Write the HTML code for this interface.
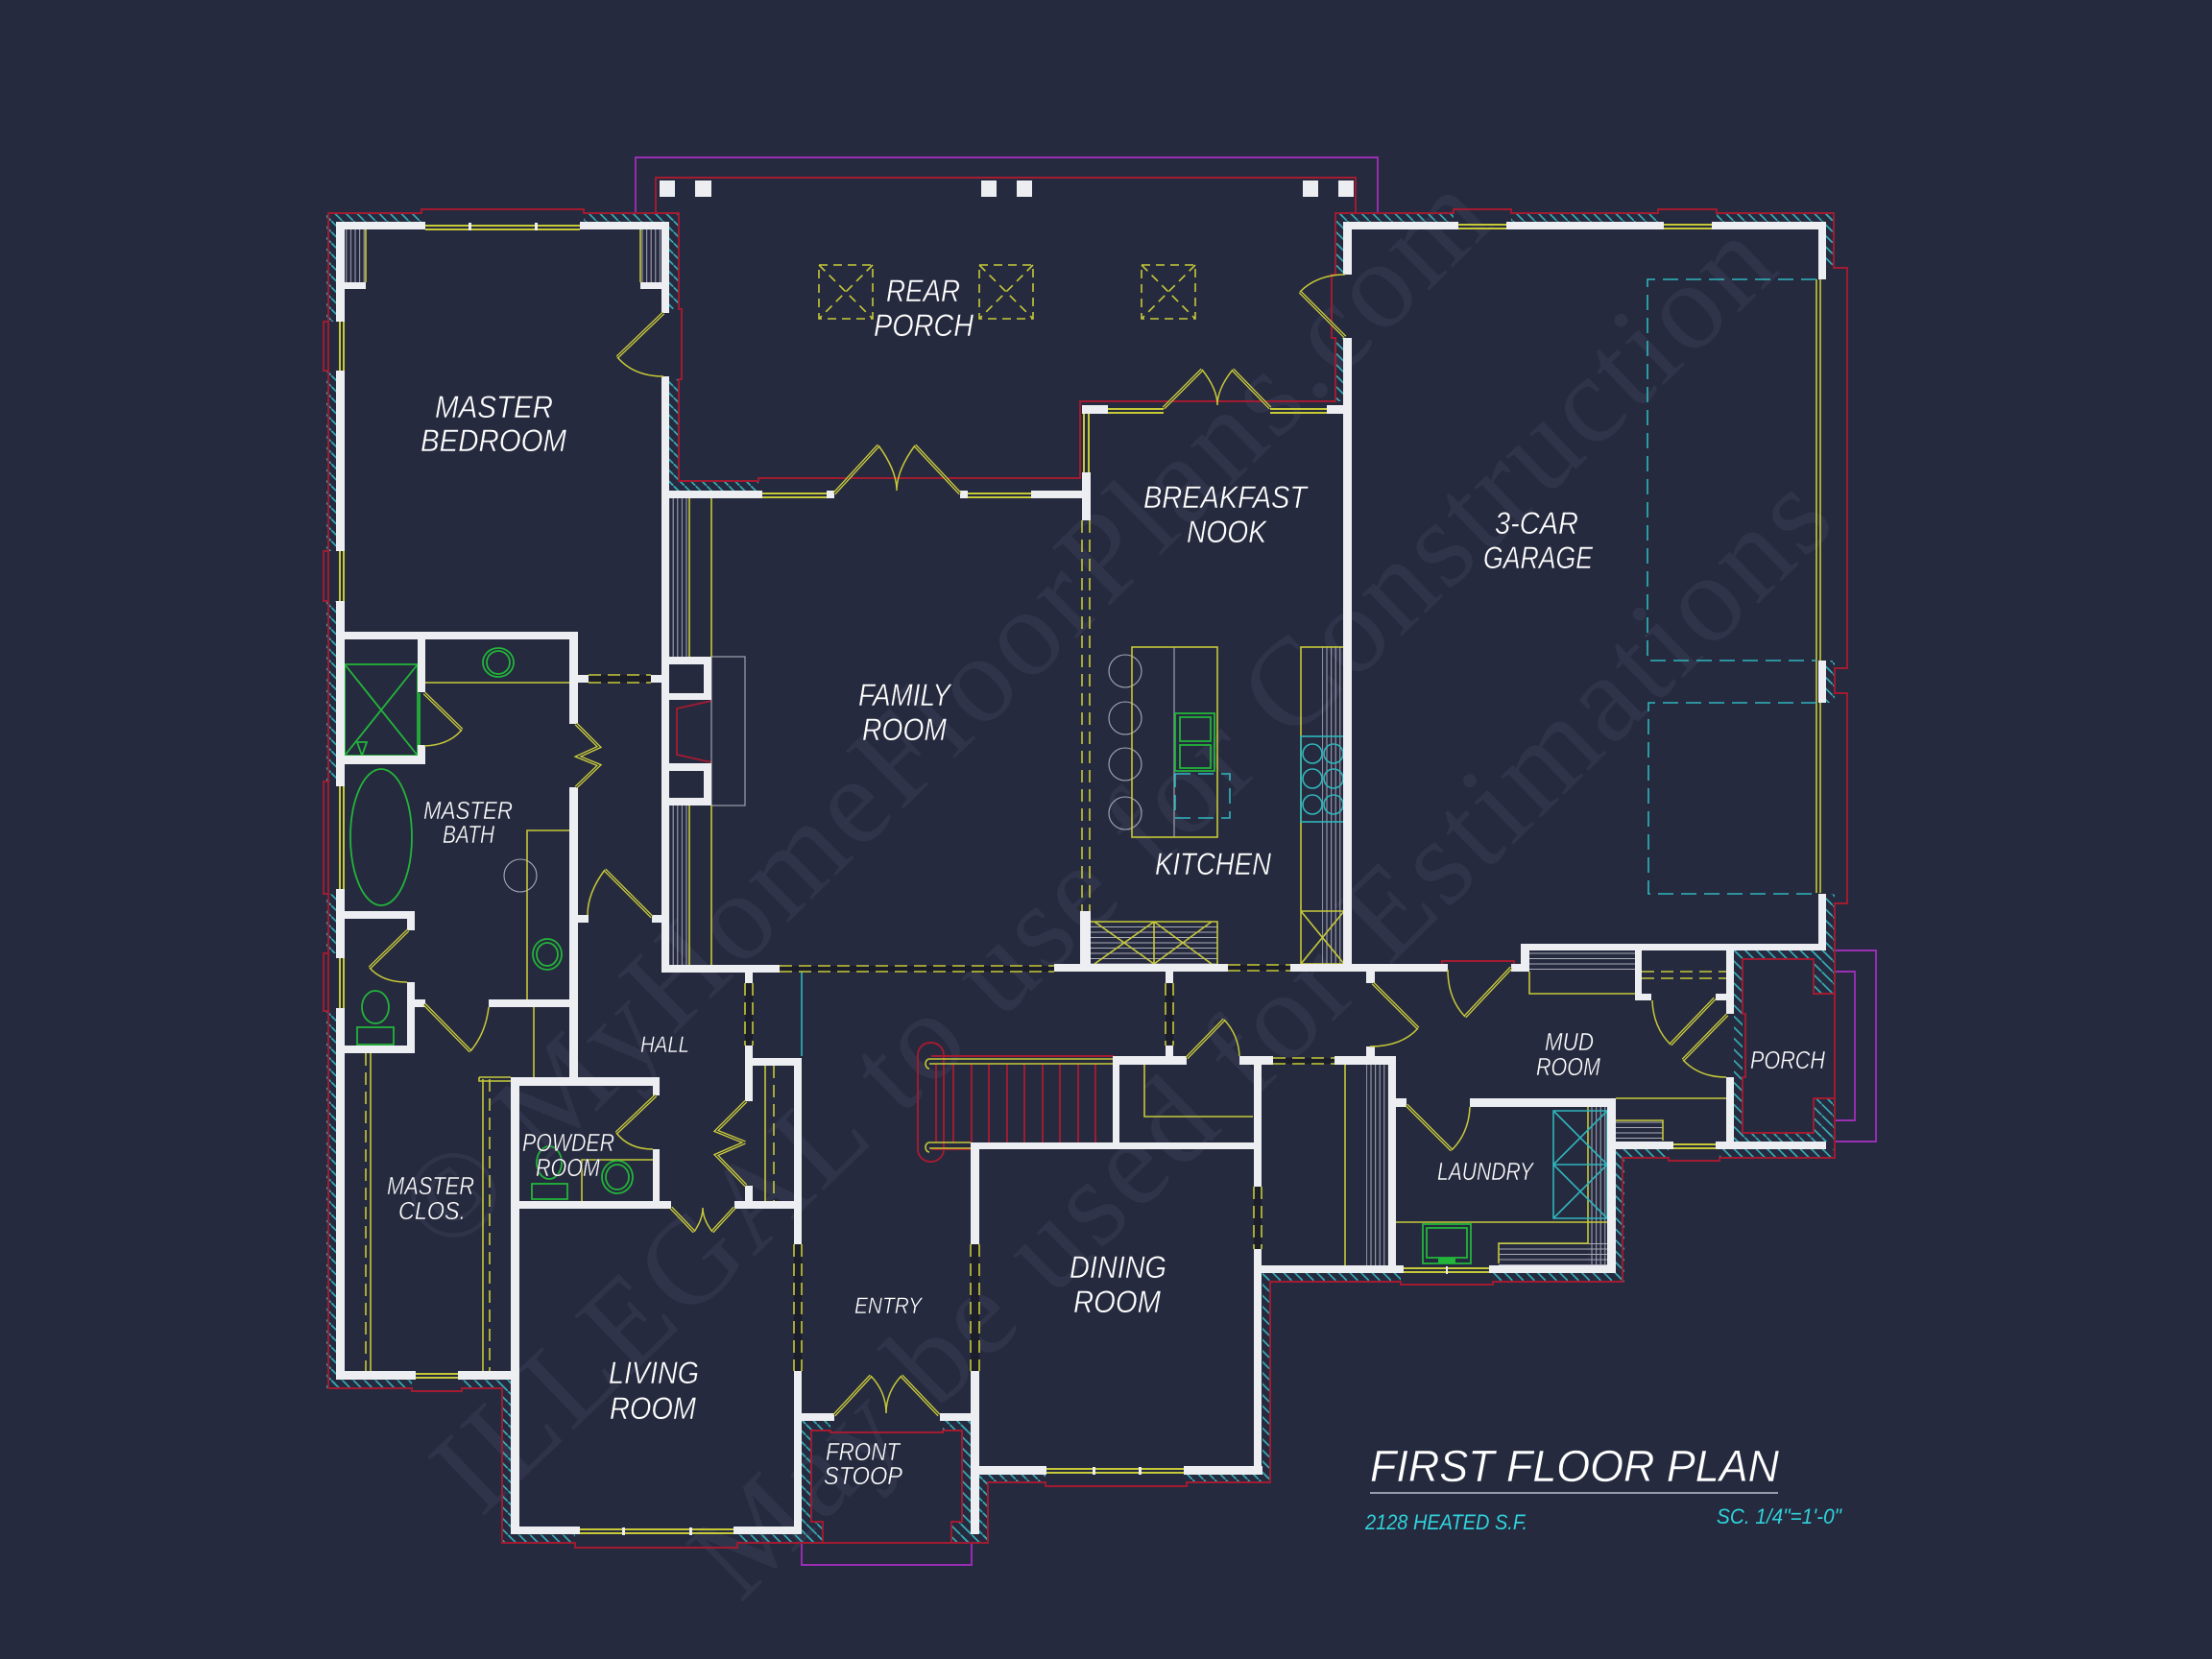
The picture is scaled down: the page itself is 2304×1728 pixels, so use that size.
<!DOCTYPE html>
<html><head><meta charset="utf-8"><title>First Floor Plan</title>
<style>
html,body{margin:0;padding:0;background:#262a3e}
svg{display:block}
.y,.yd,.r,.p,.g,.c,.cd,.w,.a{fill:none}
.y{stroke:#c6c938;stroke-width:1.6}
.yd{stroke:#c6c938;stroke-width:1.6;stroke-dasharray:13 7}
.a{stroke:#c6c938;stroke-width:1.5}
.r{stroke:#a31b31;stroke-width:1.9}
.p{stroke:#9a2fb4;stroke-width:1.9}
.g{stroke:#22b53a;stroke-width:1.8}
.c{stroke:#2fb6bd;stroke-width:1.6}
.cd{stroke:#2fb6bd;stroke-width:1.6;stroke-dasharray:16 8}
.w{stroke:#a9abb8;stroke-width:1.1}
text{font-family:"Liberation Sans",sans-serif;font-style:italic;fill:#fff;stroke:#262a3e;stroke-width:.45}
.m{font-family:"Liberation Serif",serif;font-style:normal;fill:#30344a;stroke:none;font-size:130px}
.t{fill:#2fd3dc;stroke:none;font-size:22px}
</style></head>
<body>
<svg xmlns="http://www.w3.org/2000/svg" width="2304" height="1728" viewBox="0 0 2304 1728">
<defs>
<pattern id="h" width="11.5" height="11.5" patternUnits="userSpaceOnUse"><path d="M-1 -1L12.5 12.5" stroke="#35a9b3" stroke-width="1.7"/></pattern>
<pattern id="v" width="4.6" height="5" patternUnits="userSpaceOnUse"><path d="M2 0V5" stroke="#a9abb8" stroke-width="1"/></pattern>
<pattern id="z" width="5" height="5.5" patternUnits="userSpaceOnUse"><path d="M0 3H5" stroke="#a9abb8" stroke-width="1"/></pattern>
<g id="dd" fill="none">
<path d="M691 326L643 372M869 514L915 464M1000 514L953 464M1212 425L1252 385M1323 425L1284 385M1401 351L1354 304"/>
<path d="M442 722L481 760M600 754L624 778L602 788L624 797L600 820M425 969L385 1008M442 1046L490 1095M679 955L630 906"/>
<path d="M683 1141L642 1180M777 1147L746 1178L776 1190M776 1190L746 1203L777 1235M699 1258L723 1283M765 1258L742 1283M869 1474L907 1433M978 1474L939 1433"/>
<path d="M1236 1102L1275 1062M1430 1024L1477 1071M1574 1008L1526 1059M1465 1151L1512 1198M1786 1040L1740 1088M1799 1057L1753 1104"/>
</g>
</defs>
<rect width="2304" height="1728" fill="#262a3e"/>

<!-- watermark -->
<text class="m" transform="translate(467 1310) rotate(-44.6)" textLength="1533">© MyHomeFloorPlans.com</text>
<text class="m" transform="translate(501 1582) rotate(-43.8)" textLength="1877">ILLEGAL to use for Construction</text>
<text class="m" transform="translate(771 1671) rotate(-44.5)" textLength="1603">May be used for Estimations</text>

<!-- hatch -->
<g fill="url(#h)">
<rect x="340" y="222" width="99" height="9"/><rect x="608" y="222" width="99" height="9"/>
<rect x="340" y="222" width="10" height="113"/><rect x="340" y="386" width="10" height="188"/><rect x="340" y="626" width="10" height="188"/><rect x="340" y="931" width="10" height="62"/><rect x="340" y="1053" width="10" height="393"/>
<rect x="697" y="222" width="10" height="100"/><rect x="697" y="395" width="10" height="116"/><rect x="697" y="501" width="93" height="10"/>
<rect x="340" y="1437" width="89" height="9"/><rect x="481" y="1437" width="51" height="9"/>
<rect x="523" y="1446" width="9" height="161"/><rect x="523" y="1598" width="76" height="9"/><rect x="768" y="1598" width="89" height="9"/>
<rect x="835" y="1480" width="10" height="127"/><rect x="845" y="1585" width="12" height="22"/><rect x="835" y="1480" width="30" height="10"/>
<rect x="1002" y="1480" width="9" height="127"/><rect x="991" y="1585" width="20" height="22"/><rect x="982" y="1480" width="29" height="10"/>
<rect x="1020" y="1536" width="9" height="71"/><rect x="1011" y="1598" width="18" height="9"/>
<rect x="1020" y="1536" width="69" height="8"/><rect x="1236" y="1536" width="87" height="8"/><rect x="1315" y="1326" width="8" height="218"/>
<rect x="1315" y="1326" width="144" height="9"/><rect x="1555" y="1326" width="137" height="9"/><rect x="1683" y="1197" width="9" height="138"/>
<rect x="1683" y="1197" width="55" height="9"/><rect x="1791" y="1197" width="120" height="9"/>
<rect x="1391" y="222" width="123" height="9"/><rect x="1574" y="222" width="153" height="9"/><rect x="1788" y="222" width="122" height="9"/>
<rect x="1391" y="222" width="8" height="64"/><rect x="1391" y="352" width="8" height="66"/><rect x="1902" y="222" width="8" height="57"/>
<rect x="1902" y="688" width="9" height="44"/><rect x="1902" y="931" width="9" height="59"/>
<rect x="1806" y="990" width="9" height="199"/><rect x="1806" y="990" width="105" height="9"/><rect x="1806" y="1180" width="105" height="9"/>
<rect x="1889" y="990" width="22" height="45"/><rect x="1889" y="1144" width="22" height="45"/>
</g>

<!-- purple -->
<path class="p" d="M662 222V164H1435V222"/>
<path class="p" d="M1911 990H1954V1189H1911M1911 1012H1932V1167H1911"/>
<path class="p" d="M835 1607V1630H1012V1607"/>

<!-- red outlines -->
<path class="r" d="M683 222V185H1412V222"/>
<path class="r" d="M342 335V222H439V218H608V222H707V322H710V395H707V501H790V498H1125V418H1149M1149 418H1384H1391V352H1387V286H1391V222H1514V218H1574V222H1727V218H1788V222H1910V279H1924V696H1911V722H1924V941H1911V1206H1791V1209H1738V1206H1690V1335H1555V1338H1459V1335H1323V1544H1236V1548H1089V1544H1029V1607H768V1612H599V1607H523V1446H481V1449H429V1446H342V335"/>
<path class="r" d="M342 335H337V386H342M342 574H337V626H342M342 814H337V931H342M342 993H337V1053H342"/>
<path class="r" d="M1502 1012V1001H1577V1012"/>
<path class="r" d="M845 1490H865V1492H982V1490H1002V1585H991V1607H857V1585H845Z"/>
<path class="r" d="M1815 999H1889V1035H1911V1144H1889V1180H1815V1122H1818V1056H1815Z"/>
<path class="r" d="M741 730L705 738V786L741 794"/>

<!-- stairs -->
<rect class="r" x="956" y="1086" width="27" height="124" rx="13"/>
<path class="r" d="M970 1100H1160M970 1197H1011M975 1108V1190M993 1108V1190M1012 1108V1190M1030 1108V1190M1049 1108V1190M1067 1108V1190M1086 1108V1190M1104 1108V1190M1123 1108V1190M1141 1108V1190"/>
<path class="y" d="M968 1103H1160M968 1108H1160M968 1190H1011M968 1196H1011"/>
<path class="y" d="M968 1103a4 5 0 0 0 0 10M968 1190a4 5 0 0 0 0 10"/>

<!-- shelves, gray fills -->
<g>
<rect x="359" y="239" width="22" height="55" fill="url(#v)"/><rect x="667" y="239" width="22" height="55" fill="url(#v)"/>
<rect x="697" y="519" width="21" height="165" fill="url(#v)"/><rect x="697" y="839" width="21" height="166" fill="url(#v)"/>
<rect x="1423" y="1109" width="23" height="209" fill="url(#v)"/>
<rect x="1654" y="1153" width="20" height="165" fill="url(#v)"/>
<rect x="1561" y="1295" width="113" height="23" fill="url(#z)"/>
<rect x="1683" y="1167" width="49" height="21" fill="url(#z)"/>
<rect x="1593" y="990" width="110" height="22" fill="url(#z)"/>
<rect x="1136" y="960" width="132" height="44" fill="url(#z)"/>
<rect x="1377" y="673" width="23" height="331" fill="url(#v)"/>
<rect class="w" x="741" y="684" width="35" height="155"/>
<ellipse class="w" cx="542" cy="912" rx="17" ry="17"/>
<ellipse class="w" cx="1172" cy="699" rx="17" ry="17"/><ellipse class="w" cx="1172" cy="748" rx="17" ry="17"/><ellipse class="w" cx="1172" cy="796" rx="17" ry="17"/><ellipse class="w" cx="1172" cy="847" rx="17" ry="17"/>
<path class="w" d="M1223 674V872"/>
</g>

<!-- yellow fixtures -->
<path class="y" d="M381 239V294M667 239V294M718 519V684M741 519V684M718 839V1005M741 839V1005"/>
<path class="y" d="M443 711H593M549 1041V865H593M556 1049V1122M499 1122V1126H532M499 1122H532"/>
<path class="y" d="M386 1097V1428M503 1124V1428M797 1110V1251M1401 1109V1318M1192 1109V1163H1305"/>
<path class="yd" d="M381 1097V1428M510 1124V1428M806 1110V1251"/>
<path class="y" d="M606 1251V1208H680"/>
<rect class="y" x="1179" y="674" width="89" height="198"/>
<rect class="y" x="1355" y="674" width="45" height="330"/>
<path class="y" d="M1355 949H1400M1355 949L1400 1004M1400 949L1355 1004"/>
<path class="y" d="M1136 960H1268V1004M1202 960V1004M1140 1004L1202 960M1140 960L1202 1004M1202 1004L1262 960M1202 960L1262 1004"/>
<path class="y" d="M1593 1012V1035H1703"/>
<path class="y" d="M1683 1144H1798M1683 1167H1732V1188"/>
<path class="y" d="M1454 1273H1674M1654 1153V1295H1561V1316"/>
<path class="yd" d="M1710 1012H1798M1710 1019H1798"/>
<path class="y" d="M1892 291V930M1896 291V930"/>

<!-- skylights -->
<g class="yd" style="stroke-dasharray:9 6">
<rect x="853" y="276" width="56" height="56" class="yd" style="stroke-dasharray:9 6"/><path class="yd" style="stroke-dasharray:9 6" d="M853 276L909 332M909 276L853 332"/>
<rect x="1020" y="276" width="56" height="56" class="yd" style="stroke-dasharray:9 6"/><path class="yd" style="stroke-dasharray:9 6" d="M1020 276L1076 332M1076 276L1020 332"/>
<rect x="1189" y="276" width="56" height="56" class="yd" style="stroke-dasharray:9 6"/><path class="yd" style="stroke-dasharray:9 6" d="M1189 276L1245 332M1245 276L1189 332"/>
</g>

<!-- cyan -->
<path class="cd" d="M1892 291H1716V688H1892M1892 732H1717V931H1892"/>
<rect class="cd" x="1224" y="806" width="57" height="46"/>
<rect class="c" x="1355" y="767" width="45" height="89"/>
<circle class="c" cx="1367" cy="785" r="10"/><circle class="c" cx="1389" cy="785" r="10"/><circle class="c" cx="1367" cy="811" r="10"/><circle class="c" cx="1389" cy="811" r="10"/><circle class="c" cx="1367" cy="838" r="10"/><circle class="c" cx="1389" cy="838" r="10"/>
<path class="c" d="M835 1012V1100"/>
<path class="c" d="M1618 1157H1674V1269H1618ZM1618 1213H1674M1618 1157L1674 1213M1674 1157L1618 1213M1618 1213L1674 1269M1674 1213L1618 1269"/>

<!-- green -->
<path class="g" d="M359 692H435V787H359ZM359 692L435 787M435 692L359 787M372 773H382L377 787ZM437 722V777"/>
<ellipse class="g" cx="519" cy="690" rx="16" ry="15"/><ellipse class="g" cx="519" cy="690" rx="12" ry="12"/>
<ellipse class="g" cx="397" cy="872" rx="32" ry="71"/>
<ellipse class="g" cx="570" cy="994" rx="15" ry="16"/><ellipse class="g" cx="570" cy="994" rx="11" ry="12"/>
<ellipse class="g" cx="391" cy="1049" rx="14" ry="17"/><rect class="g" x="372" y="1070" width="38" height="18"/>
<ellipse class="g" cx="643" cy="1226" rx="16" ry="17"/><ellipse class="g" cx="643" cy="1226" rx="12" ry="13"/>
<ellipse class="g" cx="572" cy="1211" rx="13" ry="17"/><rect class="g" x="554" y="1233" width="37" height="16"/>
<rect class="g" x="1224" y="743" width="41" height="60"/><rect class="g" x="1229" y="747" width="32" height="25"/><rect class="g" x="1229" y="776" width="32" height="24"/>
<rect class="g" x="1482" y="1275" width="50" height="41"/><rect class="g" x="1486" y="1279" width="42" height="31"/><rect x="1498" y="1310" width="18" height="6" fill="#22b53a"/>

<!-- dark backing of glass openings -->
<g fill="#1b1d2a">
<rect x="776" y="1024" width="8" height="65"/><rect x="1214" y="1024" width="8" height="65"/>
<rect x="827" y="1296" width="8" height="132"/><rect x="1011" y="1296" width="9" height="132"/>
<rect x="1306" y="1236" width="8" height="65"/><rect x="1326" y="1102" width="64" height="6"/>
<rect x="1279" y="1005" width="65" height="6"/><rect x="812" y="1006" width="286" height="6"/>
<rect x="613" y="703" width="65" height="8"/>
</g>

<!-- walls -->
<g fill="#eceef1">
<!-- master bedroom -->
<rect x="350" y="231" width="93" height="8"/><rect x="604" y="231" width="93" height="8"/>
<rect x="350" y="231" width="9" height="104"/><rect x="350" y="386" width="9" height="188"/><rect x="350" y="626" width="9" height="193"/><rect x="350" y="926" width="9" height="72"/><rect x="350" y="1050" width="9" height="387"/>
<rect x="689" y="231" width="8" height="95"/><rect x="689" y="392" width="8" height="620"/>
<rect x="359" y="294" width="22" height="7"/><rect x="667" y="294" width="22" height="7"/>
<rect x="697" y="511" width="97" height="8"/><rect x="861" y="511" width="8" height="8"/><rect x="1000" y="511" width="8" height="8"/><rect x="1074" y="511" width="53" height="8"/>
<rect x="1127" y="422" width="9" height="9"/><rect x="1127" y="492" width="9" height="50"/><rect x="1127" y="422" width="27" height="9"/><rect x="1382" y="422" width="17" height="9"/>
<rect x="1399" y="231" width="9" height="55"/><rect x="1399" y="352" width="9" height="660"/>
<rect x="1399" y="231" width="120" height="8"/><rect x="1569" y="231" width="164" height="8"/><rect x="1783" y="231" width="119" height="8"/>
<rect x="1894" y="231" width="8" height="60"/><rect x="1894" y="688" width="8" height="44"/><rect x="1894" y="931" width="8" height="59"/>
<rect x="1584" y="983" width="318" height="7"/><rect x="1584" y="983" width="9" height="29"/><rect x="1574" y="1004" width="19" height="8"/>
<!-- columns -->
<rect x="687" y="188" width="16" height="17"/><rect x="724" y="188" width="17" height="17"/><rect x="1022" y="188" width="16" height="17"/><rect x="1059" y="188" width="16" height="17"/><rect x="1357" y="188" width="16" height="17"/><rect x="1394" y="188" width="16" height="17"/>
<!-- fireplace -->
<rect x="697" y="684" width="44" height="8"/><rect x="733" y="684" width="8" height="45"/><rect x="697" y="722" width="44" height="7"/>
<rect x="697" y="795" width="44" height="8"/><rect x="733" y="795" width="8" height="44"/><rect x="697" y="831" width="44" height="8"/>
<!-- bath -->
<rect x="350" y="658" width="252" height="8"/><rect x="593" y="658" width="9" height="96"/><rect x="593" y="820" width="9" height="311"/>
<rect x="435" y="666" width="8" height="55"/><rect x="435" y="776" width="8" height="20"/><rect x="350" y="787" width="93" height="9"/>
<rect x="602" y="703" width="11" height="8"/><rect x="678" y="703" width="11" height="8"/>
<rect x="602" y="953" width="11" height="8"/><rect x="679" y="953" width="10" height="8"/>
<rect x="350" y="949" width="82" height="8"/><rect x="424" y="949" width="8" height="20"/><rect x="424" y="1023" width="8" height="74"/><rect x="350" y="1089" width="82" height="8"/>
<rect x="432" y="1041" width="11" height="8"/><rect x="509" y="1041" width="88" height="8"/>
<!-- main horizontal -->
<rect x="689" y="1005" width="123" height="8"/><rect x="1098" y="1004" width="181" height="8"/><rect x="1344" y="1004" width="164" height="8"/>
<rect x="1125" y="949" width="11" height="55"/>
<rect x="776" y="1012" width="8" height="12"/><rect x="776" y="1089" width="8" height="58"/>
<rect x="776" y="1102" width="59" height="8"/><rect x="827" y="1102" width="8" height="194"/><rect x="827" y="1428" width="8" height="170"/>
<rect x="776" y="1235" width="8" height="16"/>
<!-- powder -->
<rect x="532" y="1122" width="155" height="9"/><rect x="680" y="1122" width="7" height="19"/><rect x="680" y="1197" width="7" height="54"/><rect x="532" y="1251" width="167" height="8"/><rect x="765" y="1251" width="70" height="8"/>
<rect x="532" y="1122" width="9" height="476"/>
<!-- closet bottom -->
<rect x="350" y="1428" width="83" height="9"/><rect x="477" y="1428" width="55" height="9"/>
<!-- living bottom -->
<rect x="532" y="1590" width="72" height="8"/><rect x="764" y="1590" width="71" height="8"/>
<!-- stoop -->
<rect x="835" y="1472" width="34" height="8"/><rect x="979" y="1472" width="32" height="8"/>
<rect x="1011" y="1190" width="9" height="106"/><rect x="1011" y="1428" width="9" height="170"/>
<!-- stair/dining -->
<rect x="1011" y="1190" width="303" height="7"/><rect x="1159" y="1100" width="7" height="90"/><rect x="1159" y="1100" width="77" height="9"/>
<rect x="1291" y="1100" width="35" height="9"/><rect x="1390" y="1100" width="64" height="9"/>
<rect x="1214" y="1012" width="8" height="12"/><rect x="1214" y="1089" width="8" height="15"/>
<rect x="1423" y="1012" width="9" height="12"/><rect x="1423" y="1090" width="9" height="12"/>
<rect x="1306" y="1104" width="8" height="132"/><rect x="1306" y="1301" width="8" height="235"/>
<rect x="1020" y="1527" width="70" height="9"/><rect x="1233" y="1527" width="82" height="9"/>
<!-- laundry -->
<rect x="1446" y="1100" width="8" height="226"/><rect x="1446" y="1144" width="19" height="9"/><rect x="1531" y="1144" width="152" height="9"/><rect x="1674" y="1144" width="9" height="182"/>
<rect x="1306" y="1318" width="156" height="8"/><rect x="1551" y="1318" width="132" height="8"/>
<!-- mud -->
<rect x="1703" y="990" width="7" height="45"/><rect x="1703" y="1035" width="17" height="7"/><rect x="1787" y="1035" width="11" height="7"/>
<rect x="1798" y="990" width="8" height="66"/><rect x="1798" y="1122" width="8" height="67"/>
<rect x="1683" y="1189" width="60" height="8"/><rect x="1787" y="1189" width="115" height="8"/>
</g>

<!-- windows -->
<g fill="#c6c938">
<rect x="443" y="234" width="161" height="2"/><rect x="443" y="238" width="161" height="2"/>
<rect x="353" y="335" width="2" height="51"/><rect x="357" y="335" width="2" height="51"/>
<rect x="353" y="574" width="2" height="52"/><rect x="357" y="574" width="2" height="52"/>
<rect x="353" y="819" width="2" height="107"/><rect x="357" y="819" width="2" height="107"/>
<rect x="353" y="998" width="2" height="52"/><rect x="357" y="998" width="2" height="52"/>
<rect x="794" y="513" width="67" height="2"/><rect x="794" y="517" width="67" height="2"/>
<rect x="1008" y="513" width="66" height="2"/><rect x="1008" y="517" width="66" height="2"/>
<rect x="1154" y="425" width="58" height="2"/><rect x="1154" y="429" width="58" height="2"/>
<rect x="1323" y="425" width="59" height="2"/><rect x="1323" y="429" width="59" height="2"/>
<rect x="1128" y="431" width="2" height="61"/><rect x="1133" y="431" width="2" height="61"/>
<rect x="1519" y="233" width="50" height="2"/><rect x="1519" y="237" width="50" height="2"/>
<rect x="1733" y="233" width="50" height="2"/><rect x="1733" y="237" width="50" height="2"/>
<rect x="433" y="1430" width="44" height="2"/><rect x="433" y="1434" width="44" height="2"/>
<rect x="604" y="1592" width="160" height="2"/><rect x="604" y="1596" width="160" height="2"/>
<rect x="1090" y="1529" width="143" height="2"/><rect x="1090" y="1533" width="143" height="2"/>
<rect x="1462" y="1320" width="89" height="2"/><rect x="1462" y="1324" width="89" height="2"/>
<rect x="1743" y="1191" width="44" height="2"/><rect x="1743" y="1195" width="44" height="2"/>
</g>
<!-- window mullions -->
<g fill="#eceef1">
<rect x="488" y="232" width="3" height="8"/><rect x="557" y="232" width="3" height="8"/>
<rect x="648" y="1591" width="3" height="8"/><rect x="718" y="1591" width="3" height="8"/>
<rect x="1138" y="1528" width="3" height="8"/><rect x="1186" y="1528" width="3" height="8"/>
<rect x="1506" y="1319" width="2" height="8"/>
</g>

<!-- dashed glass openings -->
<path class="yd" d="M613 703H678M613 711H678M812 1006H1098M812 1012H1098M1279 1005H1344M1279 1011H1344M1127 542V949M1135 542V949M776 1024V1089M784 1024V1089M1214 1024V1089M1222 1024V1089M827 1296V1428M835 1296V1428M1011 1296V1428M1020 1296V1428M1306 1236V1301M1314 1236V1301M1326 1102H1390M1326 1108H1390"/>

<!-- doors -->
<use href="#dd" stroke="#cfd13c" stroke-width="3.6"/>
<use href="#dd" stroke="#262a3e" stroke-width="1"/>
<path class="a" d="M643 372Q660 392 691 392M915 464Q934 490 934 511M953 464Q934 490 934 511M1252 385Q1268 405 1268 422M1284 385Q1268 405 1268 422M1354 304Q1372 286 1401 286"/>
<path class="a" d="M481 760Q468 776 442 777M385 1008Q398 1023 424 1023M490 1095Q506 1076 509 1049M630 906Q612 930 612 953"/>
<path class="a" d="M642 1180Q655 1197 680 1197M723 1283Q732 1270 732 1258M742 1283Q732 1270 732 1258M907 1433Q923 1450 923 1472M939 1433Q923 1450 923 1472"/>
<path class="a" d="M1275 1062Q1290 1078 1291 1100M1477 1071Q1460 1090 1427 1090M1526 1059Q1508 1040 1508 1010M1512 1198Q1530 1180 1531 1153M1740 1088Q1722 1070 1721 1042M1753 1104Q1770 1122 1798 1122"/>

<!-- labels -->
<g font-size="32">
<text x="453" y="435" textLength="123" lengthAdjust="spacingAndGlyphs">MASTER</text>
<text x="438" y="470" textLength="152" lengthAdjust="spacingAndGlyphs">BEDROOM</text>
<text x="923" y="314" textLength="77" lengthAdjust="spacingAndGlyphs">REAR</text>
<text x="910" y="350" textLength="104" lengthAdjust="spacingAndGlyphs">PORCH</text>
<text x="1191" y="529" textLength="170" lengthAdjust="spacingAndGlyphs">BREAKFAST</text>
<text x="1236" y="565" textLength="83" lengthAdjust="spacingAndGlyphs">NOOK</text>
<text x="1557" y="556" textLength="87" lengthAdjust="spacingAndGlyphs">3-CAR</text>
<text x="1545" y="592" textLength="114" lengthAdjust="spacingAndGlyphs">GARAGE</text>
<text x="894" y="735" textLength="96" lengthAdjust="spacingAndGlyphs">FAMILY</text>
<text x="898" y="771" textLength="88" lengthAdjust="spacingAndGlyphs">ROOM</text>
<text x="1203" y="911" textLength="121" lengthAdjust="spacingAndGlyphs">KITCHEN</text>
<text x="1114" y="1331" textLength="101" lengthAdjust="spacingAndGlyphs">DINING</text>
<text x="1118" y="1367" textLength="91" lengthAdjust="spacingAndGlyphs">ROOM</text>
<text x="634" y="1441" textLength="94" lengthAdjust="spacingAndGlyphs">LIVING</text>
<text x="635" y="1478" textLength="90" lengthAdjust="spacingAndGlyphs">ROOM</text>
</g>
<g font-size="26">
<text x="441" y="853" textLength="93" lengthAdjust="spacingAndGlyphs">MASTER</text>
<text x="461" y="878" textLength="54" lengthAdjust="spacingAndGlyphs">BATH</text>
<text x="1609" y="1094" textLength="51" lengthAdjust="spacingAndGlyphs">MUD</text>
<text x="1600" y="1120" textLength="67" lengthAdjust="spacingAndGlyphs">ROOM</text>
<text x="1823" y="1113" textLength="78" lengthAdjust="spacingAndGlyphs">PORCH</text>
<text x="1497" y="1229" textLength="100" lengthAdjust="spacingAndGlyphs">LAUNDRY</text>
<text x="544" y="1199" textLength="96" lengthAdjust="spacingAndGlyphs">POWDER</text>
<text x="558" y="1225" textLength="67" lengthAdjust="spacingAndGlyphs">ROOM</text>
<text x="403" y="1244" textLength="91" lengthAdjust="spacingAndGlyphs">MASTER</text>
<text x="415" y="1270" textLength="70" lengthAdjust="spacingAndGlyphs">CLOS.</text>
<text x="860" y="1521" textLength="77" lengthAdjust="spacingAndGlyphs">FRONT</text>
<text x="858" y="1546" textLength="82" lengthAdjust="spacingAndGlyphs">STOOP</text>
</g>
<text font-size="24" x="667" y="1096" textLength="51" lengthAdjust="spacingAndGlyphs">HALL</text>
<text font-size="24" x="890" y="1368" textLength="70" lengthAdjust="spacingAndGlyphs">ENTRY</text>

<!-- title -->
<text font-size="46" x="1427" y="1543" textLength="426" lengthAdjust="spacingAndGlyphs">FIRST FLOOR PLAN</text>
<rect x="1427" y="1554" width="425" height="2" fill="#9a9cab"/>
<text class="t" x="1422" y="1593" textLength="169" lengthAdjust="spacingAndGlyphs">2128 HEATED S.F.</text>
<text class="t" x="1788" y="1587" textLength="130" lengthAdjust="spacingAndGlyphs">SC. 1/4"=1'-0"</text>
</svg>
</body></html>
